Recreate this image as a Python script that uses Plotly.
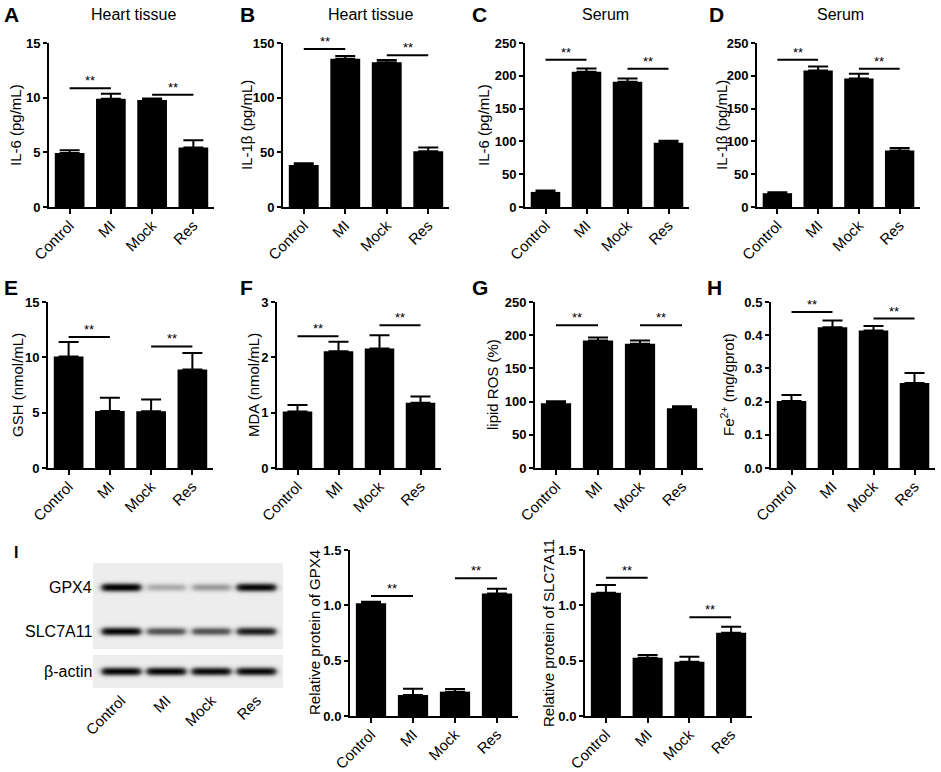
import numpy as np
import plotly.graph_objects as go

W, H = 941, 772
FONT = "Arial, Liberation Sans, sans-serif"

groups = ["Control", "MI", "Mock", "Res"]

# ---- data ----
il6_heart = [4.95, 9.9, 9.78, 5.45]
il6_heart_err = [0.25, 0.45, 0.15, 0.65]
il1b_heart = [38.5, 135.5, 132.5, 51.0]
il1b_heart_err = [1.5, 2.5, 2.0, 3.5]
il6_serum = [23.0, 206.0, 191.0, 98.0]
il6_serum_err = [2.0, 5.0, 5.0, 3.0]
il1b_serum = [21.0, 208.0, 196.0, 86.0]
il1b_serum_err = [1.5, 6.0, 7.0, 4.0]
gsh = [10.08, 5.16, 5.13, 8.9]
gsh_err = [1.3, 1.18, 1.06, 1.5]
mda = [1.02, 2.11, 2.16, 1.18]
mda_err = [0.12, 0.17, 0.24, 0.11]
lipid_ros = [97.6, 192.0, 187.0, 90.0]
lipid_ros_err = [3.0, 4.7, 5.0, 3.0]
fe2 = [0.202, 0.424, 0.414, 0.256]
fe2_err = [0.018, 0.02, 0.014, 0.03]
gpx4_rel = [1.018, 0.19, 0.22, 1.108]
gpx4_rel_err = [0.015, 0.057, 0.025, 0.042]
slc_rel = [1.114, 0.527, 0.491, 0.753]
slc_rel_err = [0.07, 0.024, 0.045, 0.054]

# significance brackets: (from group, to group, height)
sig_a = [(0, 1, 10.87), (2, 3, 10.26)]
sig_b = [(0, 1, 144.5), (2, 3, 138.7)]
sig_c = [(0, 1, 224.5), (2, 3, 210.7)]
sig_d = [(0, 1, 224.5), (2, 3, 210.7)]
sig_e = [(0, 1, 11.83), (2, 3, 10.99)]
sig_f = [(0, 1, 2.38), (2, 3, 2.58)]
sig_g = [(0, 1, 214.8), (2, 3, 214.8)]
sig_h = [(0, 1, 0.47), (2, 3, 0.45)]
sig_gpx4 = [(0, 1, 1.084), (2, 3, 1.244)]
sig_slc = [(0, 1, 1.25), (2, 3, 0.892)]

# western blot band intensities (0 = none, 1 = dark)
blot_rows = ["GPX4", "SLC7A11", "β-actin"]
gpx4_band = [1.0, 0.22, 0.28, 0.95]
slc_band = [0.95, 0.55, 0.55, 0.82]
actin_band = [0.95, 0.95, 0.92, 0.93]


def xd(a, b):
    return [a / W, b / W]


def yd(top, bottom):
    return [1 - bottom / H, 1 - top / H]


panels = [
    dict(letter="A", title="Heart tissue", ytitle="IL-6 (pg/mL)", vals=il6_heart, err=il6_heart_err,
         sig=sig_a, yr=[0, 15], dt=5, fmt="", x=(49, 214), y=(43, 207), tx=15, lx=2, ly=15, titlex=133),
    dict(letter="B", title="Heart tissue", ytitle="IL-1β (pg/mL)", vals=il1b_heart, err=il1b_heart_err,
         sig=sig_b, yr=[0, 150], dt=50, fmt="", x=(283, 449), y=(43, 207), tx=246, lx=238, ly=15, titlex=370),
    dict(letter="C", title="Serum", ytitle="IL-6 (pg/mL)", vals=il6_serum, err=il6_serum_err,
         sig=sig_c, yr=[0, 250], dt=50, fmt="", x=(525, 689), y=(43, 207), tx=483, lx=470, ly=15, titlex=605),
    dict(letter="D", title="Serum", ytitle="IL-1β (pg/mL)", vals=il1b_serum, err=il1b_serum_err,
         sig=sig_d, yr=[0, 250], dt=50, fmt="", x=(757, 920), y=(43, 207), tx=721, lx=707, ly=15, titlex=840),
    dict(letter="E", title=None, ytitle="GSH (nmol/mL)", vals=gsh, err=gsh_err,
         sig=sig_e, yr=[0, 15], dt=5, fmt="", x=(48, 213), y=(302, 468), tx=17, lx=2, ly=287),
    dict(letter="F", title=None, ytitle="MDA (nmol/mL)", vals=mda, err=mda_err,
         sig=sig_f, yr=[0, 3], dt=1, fmt="", x=(277, 441), y=(302, 468), tx=253, lx=238, ly=287),
    dict(letter="G", title=None, ytitle="lipid ROS (%)", vals=lipid_ros, err=lipid_ros_err,
         sig=sig_g, yr=[0, 250], dt=50, fmt="", x=(535, 703), y=(302, 468), tx=492, lx=470, ly=287),
    dict(letter="H", title=None, ytitle="Fe<sup>2+</sup> (mg/gprot)", vals=fe2, err=fe2_err,
         sig=sig_h, yr=[0, 0.5], dt=0.1, fmt=".1f", x=(771, 935), y=(302, 468), tx=727, lx=705, ly=287),
    dict(letter=None, title=None, ytitle="Relative protein of GPX4", vals=gpx4_rel, err=gpx4_rel_err,
         sig=sig_gpx4, yr=[0, 1.5], dt=0.5, fmt=".1f", x=(350, 518), y=(550, 716), tx=314),
    dict(letter=None, title=None, ytitle="Relative protein of SLC7A11", vals=slc_rel, err=slc_rel_err,
         sig=sig_slc, yr=[0, 1.5], dt=0.5, fmt=".1f", x=(585, 752), y=(550, 716), tx=548),
]

fig = go.Figure()
annotations = []
layout = {}

for i, p in enumerate(panels, start=1):
    xa = "x" if i == 1 else f"x{i}"
    ya = "y" if i == 1 else f"y{i}"
    fig.add_trace(go.Bar(
        x=list(range(len(groups))), y=p["vals"], xaxis=xa, yaxis=ya, width=0.72,
        marker=dict(color="black", line=dict(width=0)),
        error_y=dict(type="data", symmetric=False, array=p["err"], arrayminus=[0] * 4,
                     color="black", thickness=2, width=10),
        showlegend=False, hoverinfo="skip"))
    for (a, b, h) in p["sig"]:
        fig.add_trace(go.Scatter(x=[a, b], y=[h, h], xaxis=xa, yaxis=ya, mode="lines",
                                 line=dict(color="black", width=2), showlegend=False, hoverinfo="skip"))
        annotations.append(dict(x=(a + b) / 2, y=h, xref=xa, yref=ya, text="**", showarrow=False,
                                yanchor="bottom", xanchor="center", yshift=-2,
                                font=dict(family=FONT, size=13, color="black")))
    nt = int(round((p["yr"][1] - p["yr"][0]) / p["dt"])) + 1
    tv = [round(p["yr"][0] + k * p["dt"], 6) for k in range(nt)]
    layout["xaxis" if i == 1 else f"xaxis{i}"] = dict(
        domain=xd(*p["x"]), anchor=ya, range=[-0.5, 3.5], tickvals=list(range(4)), ticktext=groups,
        tickangle=-45, showline=True, linewidth=2, linecolor="black", ticks="outside", ticklen=5,
        tickwidth=2, tickcolor="black", showgrid=False, zeroline=False, automargin=False,
        ticklabelstandoff=-3,
        tickfont=dict(family=FONT, size=15, color="black"), fixedrange=True)
    layout["yaxis" if i == 1 else f"yaxis{i}"] = dict(
        domain=yd(*p["y"]), anchor=xa, range=p["yr"], tickvals=tv, tickformat=p["fmt"],
        showline=True, linewidth=2, linecolor="black", ticks="outside", ticklen=4,
        tickwidth=2, tickcolor="black", showgrid=False, zeroline=False, automargin=False,
        tickfont=dict(family=FONT, size=13, color="black", weight="bold"), fixedrange=True)
    ymid = (p["y"][0] + p["y"][1]) / 2
    annotations.append(dict(x=p["tx"] / W, y=1 - ymid / H, xref="paper", yref="paper", text=p["ytitle"],
                            textangle=-90, showarrow=False, xanchor="center", yanchor="middle",
                            font=dict(family=FONT, size=15, color="black")))
    if p["letter"]:
        annotations.append(dict(x=p["lx"] / W, y=1 - p["ly"] / H, xref="paper", yref="paper",
                                text=f"<b>{p['letter']}</b>", showarrow=False, xanchor="left",
                                yanchor="middle", font=dict(family=FONT, size=21, color="black")))
    if p["title"]:
        cx = p.get("titlex", (p["x"][0] + p["x"][1]) / 2)
        annotations.append(dict(x=cx / W, y=1 - 15 / H, xref="paper", yref="paper", text=p["title"],
                                showarrow=False, xanchor="center", yanchor="middle",
                                font=dict(family=FONT, size=16, color="black")))

# ---- western blot (panel I) drawn as a heatmap from band intensities ----
bx0, bx1, by0, by1 = 93, 283, 563, 688
ncol, nrow = bx1 - bx0, by1 - by0
xs = np.linspace(-0.62, 3.58, ncol)
ys = np.arange(nrow)
band_rows = [24, 68, 108]
bands = [gpx4_band, slc_band, actin_band]
X, Y = np.meshgrid(xs, ys)
Z = np.full(X.shape, 0.06)
for rc, inten in zip(band_rows, bands):
    for lane, v in enumerate(inten):
        prof_y = np.exp(-((Y - rc) / 3.8) ** 2)
        prof_x = 1 / (1 + np.exp((np.abs(X - lane) - 0.42) / 0.04))
        Z = Z + v * prof_y * prof_x
Z = np.clip(Z, 0, 1)
mask = ((Y >= 0) & (Y <= 85)) | ((Y >= 92) & (Y <= 125))
Z = np.where(mask, Z, np.nan)

fig.add_trace(go.Heatmap(x=xs, y=ys, z=Z, xaxis="x11", yaxis="y11", zmin=0, zmax=1,
                         colorscale=[[0, "#ffffff"], [0.5, "#6a6a6a"], [1, "#050505"]],
                         showscale=False, hoverinfo="skip"))
layout["xaxis11"] = dict(domain=xd(bx0, bx1), anchor="y11", range=[-0.62, 3.58], tickvals=list(range(4)),
                         ticktext=groups, tickangle=-45, showline=False, ticks="", showgrid=False,
                         zeroline=False, automargin=False,
                         tickfont=dict(family=FONT, size=15, color="black"), fixedrange=True)
layout["yaxis11"] = dict(domain=yd(by0, by1), anchor="x11", range=[nrow - 0.5, -0.5], visible=False,
                         automargin=False, fixedrange=True)
for rc, name in zip(band_rows, blot_rows):
    annotations.append(dict(x=94 / W, y=1 - (by0 + rc) / H, xref="paper", yref="paper", text=name,
                            showarrow=False, xanchor="right", yanchor="middle",
                            font=dict(family=FONT, size=16, color="black")))
annotations.append(dict(x=12 / W, y=1 - 552 / H, xref="paper", yref="paper", text="<b>I</b>",
                        showarrow=False, xanchor="left", yanchor="middle",
                        font=dict(family=FONT, size=16, color="black")))

fig.update_layout(template="none", width=W, height=H, margin=dict(l=0, r=0, t=0, b=0, autoexpand=False),
                  paper_bgcolor="white", plot_bgcolor="white", annotations=annotations,
                  font=dict(family=FONT, color="black"), **layout)
fig.write_html("out.html", config={"displayModeBar": False},
               post_script="document.body.style.margin='0px';document.body.style.overflow='hidden';")
